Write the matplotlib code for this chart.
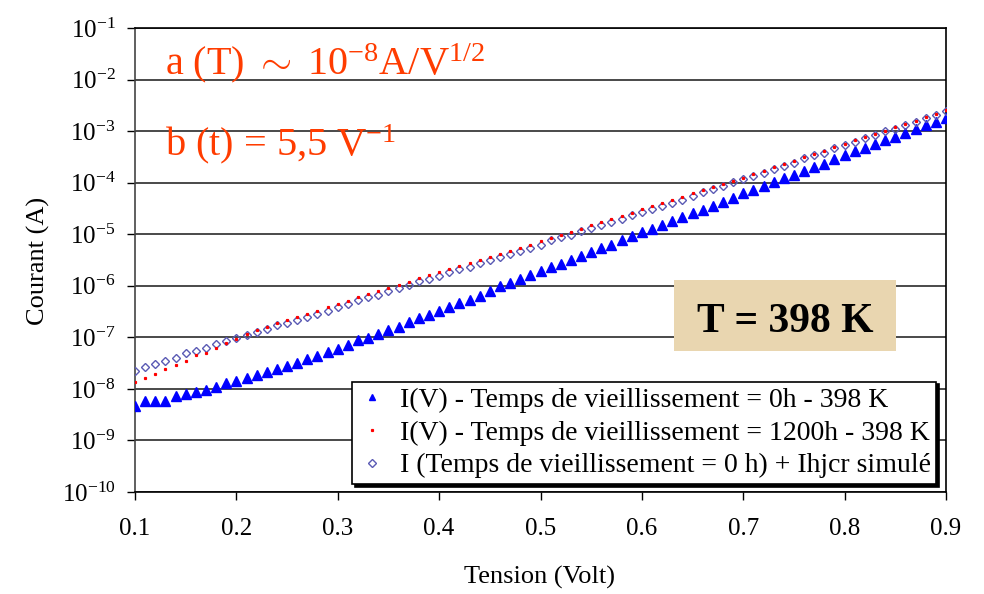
import matplotlib
matplotlib.use("Agg")
import matplotlib.pyplot as plt
import numpy as np
from matplotlib.lines import Line2D
from matplotlib.patches import Rectangle

# tension (V)
tension = [0.10, 0.11, 0.12, 0.13, 0.14, 0.15, 0.16, 0.17, 0.18, 0.19,
           0.20, 0.21, 0.22, 0.23, 0.24, 0.25, 0.26, 0.27, 0.28, 0.29,
           0.30, 0.31, 0.32, 0.33, 0.34, 0.35, 0.36, 0.37, 0.38, 0.39,
           0.40, 0.41, 0.42, 0.43, 0.44, 0.45, 0.46, 0.47, 0.48, 0.49,
           0.50, 0.51, 0.52, 0.53, 0.54, 0.55, 0.56, 0.57, 0.58, 0.59,
           0.60, 0.61, 0.62, 0.63, 0.64, 0.65, 0.66, 0.67, 0.68, 0.69,
           0.70, 0.71, 0.72, 0.73, 0.74, 0.75, 0.76, 0.77, 0.78, 0.79,
           0.80, 0.81, 0.82, 0.83, 0.84, 0.85, 0.86, 0.87, 0.88, 0.89,
           0.90]

# log10 du courant (A)
log_i_0h = [-8.34, -8.23, -8.24, -8.24, -8.14, -8.09, -8.07, -8.02, -7.96, -7.88,
            -7.84, -7.78, -7.74, -7.67, -7.62, -7.56, -7.50, -7.42, -7.36, -7.29,
            -7.23, -7.14, -7.06, -7.01, -6.93, -6.85, -6.79, -6.70, -6.63, -6.56,
            -6.48, -6.41, -6.33, -6.27, -6.19, -6.10, -6.01, -5.94, -5.87, -5.79,
            -5.72, -5.64, -5.58, -5.50, -5.42, -5.34, -5.26, -5.21, -5.12, -5.04,
            -4.96, -4.89, -4.83, -4.74, -4.67, -4.59, -4.53, -4.45, -4.37, -4.29,
            -4.20, -4.14, -4.07, -3.99, -3.91, -3.85, -3.77, -3.69, -3.63, -3.55,
            -3.47, -3.39, -3.33, -3.25, -3.18, -3.11, -3.03, -2.95, -2.89, -2.82,
            -2.74]

log_i_1200h = [-7.87, -7.78, -7.72, -7.61, -7.54, -7.45, -7.34, -7.30, -7.21, -7.11,
               -7.03, -6.93, -6.86, -6.79, -6.72, -6.66, -6.60, -6.54, -6.48, -6.42,
               -6.36, -6.29, -6.22, -6.16, -6.10, -6.04, -5.98, -5.92, -5.85, -5.80,
               -5.74, -5.68, -5.62, -5.56, -5.50, -5.44, -5.38, -5.32, -5.26, -5.20,
               -5.14, -5.07, -5.01, -4.95, -4.89, -4.83, -4.77, -4.71, -4.65, -4.58,
               -4.52, -4.46, -4.40, -4.34, -4.28, -4.21, -4.15, -4.09, -4.02, -3.96,
               -3.90, -3.83, -3.77, -3.70, -3.64, -3.58, -3.51, -3.45, -3.38, -3.31,
               -3.25, -3.18, -3.12, -3.05, -2.99, -2.92, -2.86, -2.80, -2.73, -2.67,
               -2.60]

log_i_simul = [-7.65, -7.58, -7.51, -7.46, -7.40, -7.31, -7.26, -7.20, -7.12, -7.07,
               -7.01, -6.95, -6.90, -6.84, -6.77, -6.72, -6.67, -6.60, -6.54, -6.48,
               -6.42, -6.36, -6.28, -6.22, -6.17, -6.10, -6.05, -5.98, -5.90, -5.86,
               -5.81, -5.74, -5.68, -5.63, -5.55, -5.50, -5.44, -5.38, -5.32, -5.26,
               -5.21, -5.12, -5.06, -5.01, -4.94, -4.88, -4.82, -4.76, -4.70, -4.62,
               -4.57, -4.51, -4.45, -4.39, -4.33, -4.25, -4.19, -4.13, -4.06, -3.99,
               -3.93, -3.87, -3.81, -3.73, -3.67, -3.61, -3.53, -3.47, -3.42, -3.33,
               -3.27, -3.21, -3.14, -3.07, -3.00, -2.95, -2.88, -2.82, -2.75, -2.69,
               -2.61]

x_ticks = [0.1, 0.2, 0.3, 0.4, 0.5, 0.6, 0.7, 0.8, 0.9]
x_labels = ["0.1", "0.2", "0.3", "0.4", "0.5", "0.6", "0.7", "0.8", "0.9"]
decades = [-10, -9, -8, -7, -6, -5, -4, -3, -2, -1]

labels_legende = ["I(V) - Temps de vieillissement = 0h - 398 K",
                  "I(V) - Temps de vieillissement = 1200h - 398 K",
                  "I (Temps de vieillissement = 0 h) + Ihjcr simulé"]

plt.rcParams['font.family'] = ['Liberation Serif', 'DejaVu Serif']
plt.rcParams['mathtext.fontset'] = 'custom'
plt.rcParams['mathtext.rm'] = 'Liberation Serif'
plt.rcParams['mathtext.it'] = 'Liberation Serif:italic'
plt.rcParams['mathtext.bf'] = 'Liberation Serif:bold'

rouge = '#ff3c00'

fig = plt.figure(figsize=(9.84, 5.94), dpi=100)
ax = fig.add_axes([135/984, 102/594, 811/984, 464/594])

v = np.array(tension)
ax.plot(v, 10**np.array(log_i_0h), linestyle='none', marker='^', ms=7,
        color='#0000ff', mec='#0000ff', zorder=3)
ax.plot(v, 10**np.array(log_i_simul), linestyle='none', marker='D', ms=4.5,
        mfc='none', mec='#5a5ab4', mew=1.0, zorder=4)
ax.plot(v, 10**np.array(log_i_1200h), linestyle='none', marker='s', ms=1.3,
        color='#ff0000', mec='#ff0000', zorder=5)

ax.set_yscale('log')
ax.set_xlim(0.1, 0.9)
ax.set_ylim(1e-10, 1e-1)
ax.set_xticks(x_ticks)
ax.set_xticklabels(x_labels)
ax.set_yticks([10.0**d for d in decades])
ax.set_yticklabels([r'10$^{%d}$' % d for d in decades])
ax.yaxis.set_minor_locator(matplotlib.ticker.NullLocator())
ax.tick_params(axis='both', direction='out', length=6, width=1.0, labelsize=18, colors='black')
ax.tick_params(axis='x', pad=13)
ax.tick_params(axis='y', pad=8)

ax.yaxis.grid(True, color='#3a3a3a', lw=1.3)
ax.set_axisbelow(True)
for s in ax.spines.values():
    s.set_color('black')
    s.set_linewidth(1.2)
ax.spines['left'].set_color('#444444')

fig.text(38/984, 1 - 261/594, 'Courant (A)', rotation=90, ha='center', va='center', fontsize=19)
fig.text(540/984, 1 - 577/594, 'Tension (Volt)', ha='center', va='center', fontsize=19)

ax.text(0.037, 0.901, r'a (T) $\sim$ 10$^{-8}$A/V$^{1/2}$', transform=ax.transAxes,
        color=rouge, fontsize=29, ha='left', va='baseline')
ax.text(0.037, 0.726, r'b (t) = 5,5 V$^{-1}$', transform=ax.transAxes,
        color=rouge, fontsize=29, ha='left', va='baseline')

ax.add_patch(Rectangle((0.6646, 0.3039), 0.2737, 0.153, transform=ax.transAxes,
                       facecolor='#e9d6b0', edgecolor='none', zorder=6))
ax.text(0.8015, 0.3448, 'T = 398 K', transform=ax.transAxes, ha='center', va='baseline',
        fontsize=30, fontweight='bold', color='black', zorder=7)

handles = [Line2D([], [], linestyle='none', marker='^', ms=5, color='#0000ff'),
           Line2D([], [], linestyle='none', marker='s', ms=1.3, color='#ff0000'),
           Line2D([], [], linestyle='none', marker='D', ms=4, mfc='none', mec='#5a5ab4')]
leg = ax.legend(handles, labels_legende, loc='upper left', bbox_to_anchor=(0.268, 0.238),
                fontsize=20, frameon=True, fancybox=False, shadow={'color': 'black', 'alpha': 1},
                framealpha=1, edgecolor='black', handlelength=1.0, handletextpad=0.5,
                borderaxespad=0, borderpad=0.2, labelspacing=0.27)
leg.get_frame().set_linewidth(1.2)
leg.set_zorder(8)

fig.savefig('out.png', dpi=100)
